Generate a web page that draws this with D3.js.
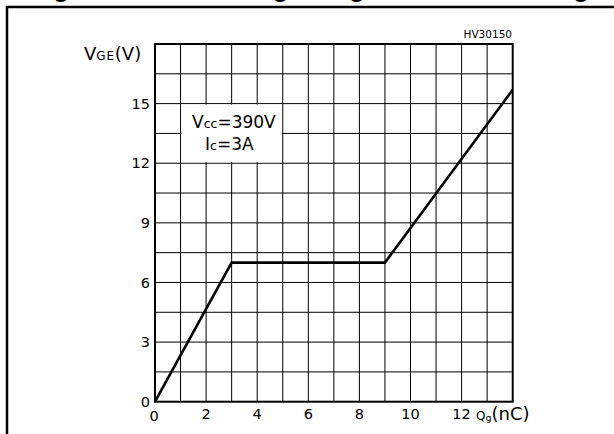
<!DOCTYPE html>
<html><head><meta charset="utf-8">
<script src="https://cdn.jsdelivr.net/npm/d3@7"></script>
<style>html,body{margin:0;padding:0;background:#fff;overflow:hidden}svg{display:block}</style>
</head><body>
<svg id="c" width="614" height="434"></svg>
<script>
// Data
const qg = [0, 3, 9, 14];            // gate charge, nC
const vge = [0, 7, 7, 15.7];         // gate-emitter voltage, V
const xTicks = [0, 2, 4, 6, 8, 10, 12];
const yTicks = [0, 3, 6, 9, 12, 15];
const xGrid = d3.range(1, 14, 1);
const yGrid = d3.range(1.5, 18, 1.5);
const titleText = "Figure 9. Gate charge vs gate-emitter voltage";
const codeText = "HV30150";

const svg = d3.select("#c");
const x = d3.scaleLinear().domain([0, 14]).range([155, 512.7]);
const y = d3.scaleLinear().domain([0, 18]).range([401.7, 44]);
const font = "'DejaVu Sans', sans-serif";

// clipped title (only descenders visible, as in the reference)
svg.append("text").attr("x", 29).attr("y", -3.6)
  .attr("font-family", "'Liberation Sans', Arial, sans-serif").attr("font-weight", "bold")
  .attr("font-size", 26.9).text(titleText);

// outer frame
svg.append("path").attr("d", "M7,440 V7 H620").attr("fill", "none")
  .attr("stroke", "#000").attr("stroke-width", 2.5);

// grid
svg.append("g").selectAll("line").data(xGrid).join("line")
  .attr("x1", d => x(d)).attr("x2", d => x(d)).attr("y1", y(0)).attr("y2", y(18))
  .attr("stroke", "#000").attr("stroke-width", 1);
svg.append("g").selectAll("line").data(yGrid).join("line")
  .attr("x1", x(0)).attr("x2", x(14)).attr("y1", d => y(d)).attr("y2", d => y(d))
  .attr("stroke", "#000").attr("stroke-width", 1);

// annotation box
svg.append("rect").attr("x", x(1) + 1).attr("y", y(15) + 1)
  .attr("width", x(5) - x(1) - 2).attr("height", y(12) - y(15) - 2).attr("fill", "#fff");

// plot frame
svg.append("rect").attr("x", x(0)).attr("y", y(18)).attr("width", x(14) - x(0))
  .attr("height", y(0) - y(18)).attr("fill", "none").attr("stroke", "#000").attr("stroke-width", 2);

// curve
const pts = qg.map((q, i) => [q, vge[i]]);
svg.append("path").datum(pts)
  .attr("d", d3.line().x(d => x(d[0])).y(d => y(d[1])))
  .attr("fill", "none").attr("stroke", "#000").attr("stroke-width", 2.6).attr("stroke-linejoin", "miter");

// y tick labels
svg.append("g").selectAll("text").data(yTicks).join("text")
  .attr("x", 150).attr("y", d => y(d)).attr("dy", "0.35em").attr("text-anchor", "end")
  .attr("font-family", font).attr("font-size", 14.5).text(d => d);

// x tick labels
svg.append("g").selectAll("text").data(xTicks).join("text")
  .attr("x", d => d === 0 ? x(d) - 1 : x(d)).attr("y", d => d === 0 ? 421 : 419).attr("text-anchor", "middle")
  .attr("font-family", font).attr("font-size", 14.5).text(d => d);

// axis titles
const yl = svg.append("text").attr("x", 84).attr("y", 60).attr("font-family", font).attr("font-size", 18);
yl.append("tspan").text("V");
yl.append("tspan").attr("font-size", 12).attr("letter-spacing", 0.8).text("GE");
yl.append("tspan").text("(V)");

const xl = svg.append("text").attr("x", 476).attr("y", 420).attr("font-family", font).attr("font-size", 18);
xl.append("tspan").attr("font-size", 12).text("Q");
xl.append("tspan").attr("font-size", 9.5).attr("dy", 1).text("g");
xl.append("tspan").attr("dy", -1).text("(nC)");

svg.append("text").attr("x", 512).attr("y", 38).attr("text-anchor", "end")
  .attr("font-family", font).attr("font-size", 10.5).text(codeText);

// annotation
const a1 = svg.append("text").attr("x", 192).attr("y", 128).attr("font-family", font).attr("font-size", 17);
a1.append("tspan").text("V");
a1.append("tspan").attr("font-size", 12.5).text("cc");
a1.append("tspan").text("=390V");
const a2 = svg.append("text").attr("x", 205).attr("y", 150).attr("font-family", font).attr("font-size", 17);
a2.append("tspan").text("I");
a2.append("tspan").attr("font-size", 12.5).text("c");
a2.append("tspan").text("=3A");
</script>
</body></html>
